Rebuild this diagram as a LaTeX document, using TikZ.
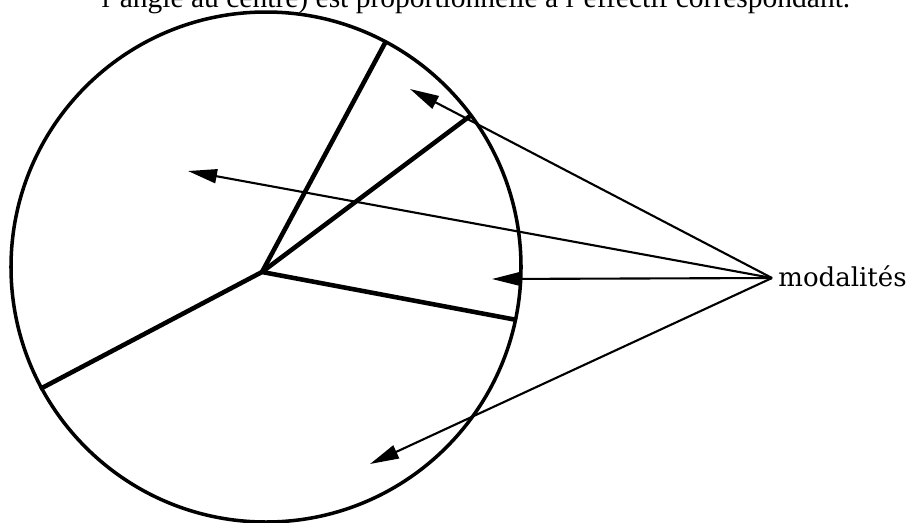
\documentclass[tikz,border=0pt]{standalone}
\usepackage{fontspec}
\setmainfont{Liberation Serif}
\newfontfamily\labelfont{DejaVu Serif}
\usepackage{tikz}
\usetikzlibrary{arrows.meta,positioning,calc}
\tikzstyle{rim}  =[line width=2pt]
\tikzstyle{spoke}=[line width=2.6pt]
\tikzstyle{arr}  =[-{Triangle[length=0.58cm,width=0.28cm]}, line width=1.2pt]
\tikzstyle{caption}=[inner sep=0pt, font=\fontsize{16.8}{20}\selectfont]
\tikzstyle{tag}  =[inner sep=0pt, font=\labelfont\fontsize{14.8}{17}\selectfont]

\begin{document}
\begin{tikzpicture}[x=0.02cm, y=-0.02cm]
  \useasboundingbox (0,0) rectangle (913,522);

  % ── caption, cut by the page edge ───────────────────────────────────────────
  \node[caption, anchor=base] (cap) at (476,7)
    {l'angle au centre) est proportionnelle à l'effectif correspondant.};

  % ── pie: rim and spokes ─────────────────────────────────────────────────────
  \coordinate (ctr) at (262,272);
  \coordinate (s1)  at (385,43);
  \coordinate (s2)  at (470,116);
  \coordinate (s3)  at (517,320);
  \coordinate (s4)  at (40,389);
  \draw[rim] (266,267) circle (255);
  \foreach \s in {s1,s2,s3,s4}
    \draw[spoke] (ctr) -- (\s);

  % ── label and its arrows ────────────────────────────────────────────────────
  \coordinate (hub) at (772,278);
  \node[tag, anchor=west] (mod) at (778,276) {modalités};
  \coordinate (t1) at (410,89);
  \coordinate (t2) at (188,171);
  \coordinate (t3) at (492,279);
  \coordinate (t4) at (370,464);
  \foreach \t in {t1,t2,t3,t4}
    \draw[arr] (hub) -- (\t);

\end{tikzpicture}
\end{document}
